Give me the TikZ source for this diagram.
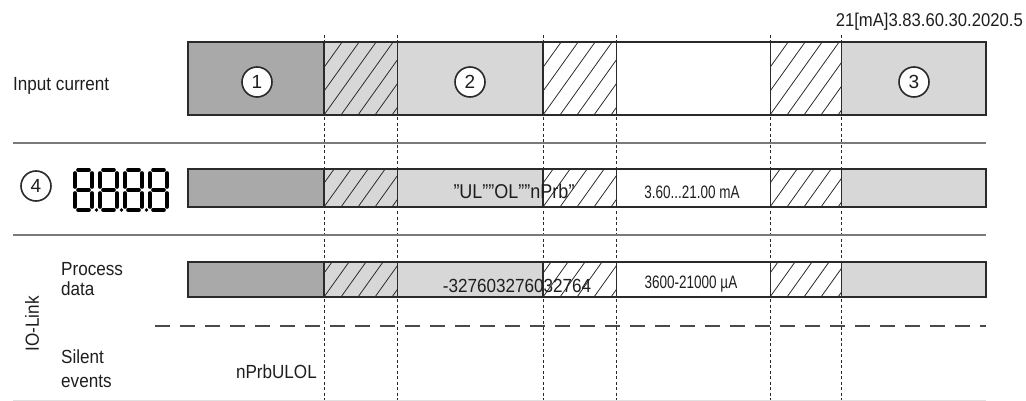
\documentclass[tikz,border=0pt]{standalone}
\usepackage{fontspec}
\setmainfont{Liberation Sans}[FakeStretch=0.9]
\newfontfamily\narrowfont{Liberation Sans}[FakeStretch=0.75]
\newfontfamily\plainfont{Liberation Sans}
\definecolor{dk}{HTML}{A9A9A9}
\definecolor{lt}{HTML}{D7D7D7}
\definecolor{ink}{HTML}{1E1E1E}
\definecolor{sepc}{HTML}{7A7A7A}
\definecolor{linec}{HTML}{2A2A2A}
\newcommand\hatchbox[5]{%
  \fill[#5] (#1,#2) rectangle (#3,#4);
  \begin{scope}
    \clip (#1,#2) rectangle (#3,#4);
    \foreach \k in {-5,...,6} {\draw[hatchline] ({#1+\k*17},#4) -- ++(60,-84);}
  \end{scope}}
\newcommand\rowbar[3]{%
  \fill[dk] (188,#1) rectangle (324,#2);
  \hatchbox{324}{#1}{397}{#2}{lt}
  \fill[lt] (397,#1) rectangle (543,#2);
  \hatchbox{543}{#1}{616}{#2}{white}
  \fill[white] (616,#1) rectangle (770,#2);
  \hatchbox{770}{#1}{841}{#2}{white}
  \fill[lt] (841,#1) rectangle (986,#2);
  \draw[baredge, line width=#3] (188,#1) rectangle (986,#2);
  \draw[baredge, line width=#3] (324,#1) -- (324,#2) (543,#1) -- (543,#2);
  \draw[baredge, line width=1] (397,#1) -- (397,#2) (616,#1) -- (616,#2) (770,#1) -- (770,#2) (841,#1) -- (841,#2);}
\newcommand\segdigit[3]{% x y dot
  \begin{scope}[seg]
    \draw (#1+3,#2) -- (#1+14,#2);
    \draw (#1+17,#2+3) -- (#1+17,#2+17);
    \draw (#1+17,#2+23) -- (#1+17,#2+37);
    \draw (#1+3,#2+40) -- (#1+14,#2+40);
    \draw (#1,#2+23) -- (#1,#2+37);
    \draw (#1,#2+3) -- (#1,#2+17);
    \draw (#1+3,#2+20) -- (#1+14,#2+20);
    \ifnum#3=1 \fill[black] (#1+21.5,#2+40) circle (1.9); \fi
  \end{scope}}
\begin{document}
\begin{tikzpicture}[x=1pt,y=-1pt,
  hatchline/.style={draw=linec, line width=0.8},
  baredge/.style={draw=linec},
  vdash/.style={draw=linec, line width=0.9, dash pattern=on 3pt off 2.5pt},
  seg/.style={line width=3.6, line cap=round, draw=black},
  lbl/.style={text=ink, inner sep=0, font=\fontsize{19}{22}\selectfont},
  cell/.style={text=ink, inner sep=0, font=\narrowfont\fontsize{18}{20}\selectfont},
  num/.style={circle, draw=linec, line width=1.6, fill=white, minimum size=30, inner sep=0, text=ink, font=\plainfont\fontsize{19}{20}\selectfont}]
\useasboundingbox (0,0) rectangle (1026,401);
\fill[white] (0,0) rectangle (1026,401);
% vertical dashed guides
\foreach \xx in {324,397,543,616,770,841} {\draw[vdash] (\xx,35) -- (\xx,401);}
% separators
\draw[draw=sepc, line width=1.5] (13,143) -- (986,143);
\draw[draw=sepc, line width=1.5] (13,235) -- (986,235);
\draw[draw=black!12, line width=1] (13,400) -- (986,400);
\draw[draw=linec!85, line width=1.3, dash pattern=on 15pt off 10pt] (155,326) -- (986,326);
% bars
\rowbar{42}{115}{2.3}
\rowbar{169}{207}{1.6}
\rowbar{262}{297}{1.6}
% circled numbers
\node[num] (n1) at (257,82) {1};
\node[num] (n2) at (470,82) {2};
\node[num] (n3) at (914,82) {3};
\node[num] (n4) at (36,186) {4};
% seven segment display
\segdigit{75}{170}{1}
\segdigit{100}{170}{1}
\segdigit{125}{170}{1}
\segdigit{150}{170}{0}
% labels
\node[lbl, anchor=base west] (inp) at (13,91) {Input current};
\node[lbl, anchor=base east, font=\fontsize{18.5}{20}\selectfont] (code) at (1023,27) {21[mA]3.83.60.30.2020.5};
\node[lbl, anchor=base west] (proc) at (61,275) {Process};
\node[lbl, anchor=base west] (data) at (61,295) {data};
\node[lbl, anchor=base west] (sil) at (61,363) {Silent};
\node[lbl, anchor=base west] (ev) at (61,387) {events};
\node[lbl, rotate=90] (iol) at (32,324) {IO-Link};
\node[lbl, anchor=base east] (npr) at (317,378) {nPrbULOL};
\node[lbl, anchor=base, font=\fontsize{20}{22}\selectfont] (ulol) at (514,198) {"UL""OL""nPrb"};
\node[lbl, anchor=base] (pd) at (517,292) {-327603276032764};
\node[cell, anchor=base] (ma) at (692,198) {3.60...21.00 mA};
\node[cell, anchor=base] (ua) at (691,288) {3600-21000 µA};
\end{tikzpicture}
\end{document}
